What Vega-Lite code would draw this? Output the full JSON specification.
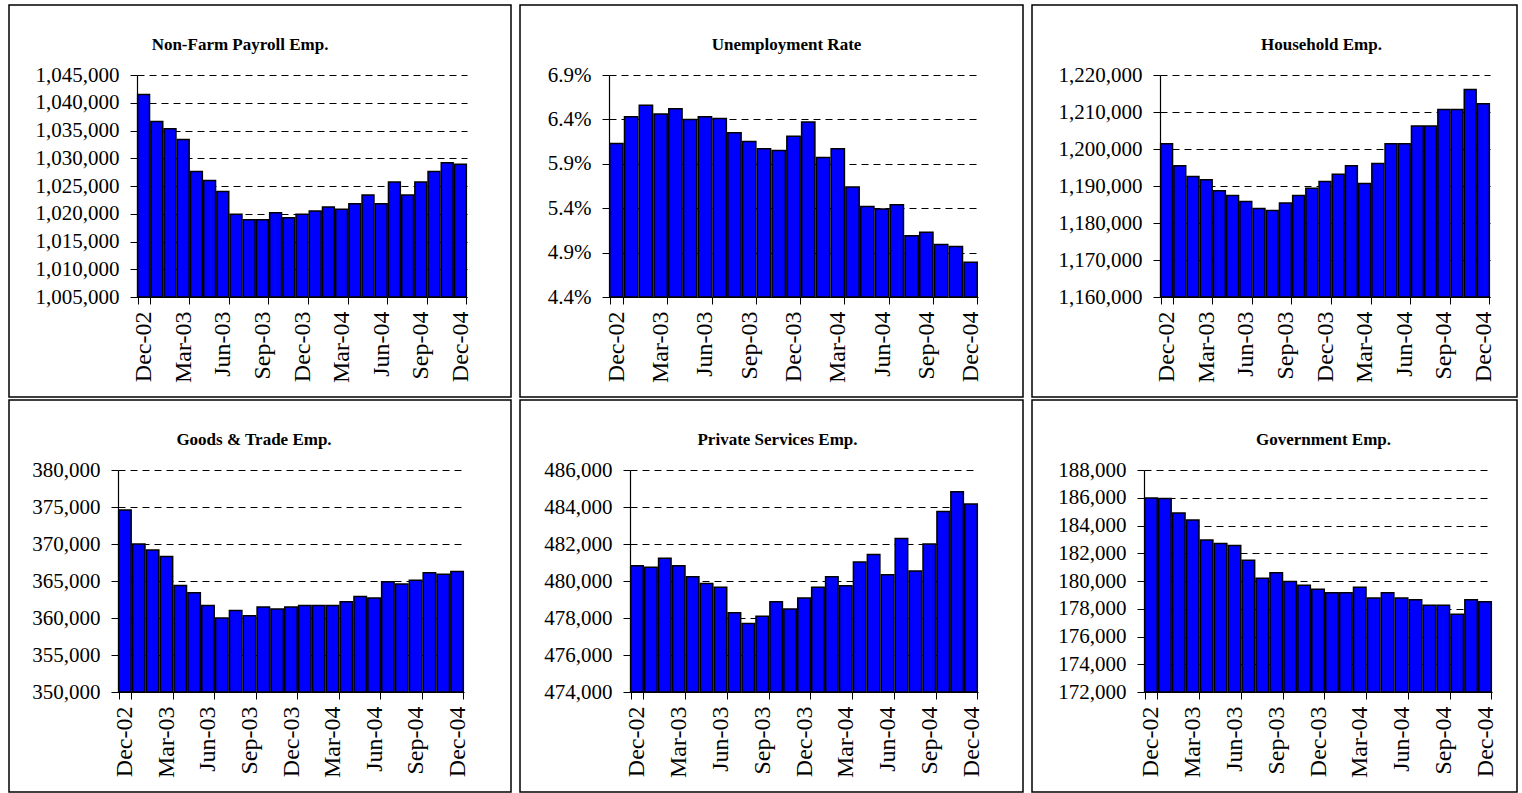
{
  "$schema": "https://vega.github.io/schema/vega-lite/v6.json",
  "padding": {"left": -4, "top": 4, "right": 0, "bottom": 0},
  "background": "white",
  "bounds": "flush",
  "columns": 3,
  "spacing": {"row": 3, "column": 9},
  "datasets": {
    "emp": [
      {"s":"NF","m":"Dec-02","v":1041500},{"s":"NF","m":"Jan-03","v":1036600},{"s":"NF","m":"Feb-03","v":1035300},{"s":"NF","m":"Mar-03","v":1033400},{"s":"NF","m":"Apr-03","v":1027600},{"s":"NF","m":"May-03","v":1026000},{"s":"NF","m":"Jun-03","v":1024000},{"s":"NF","m":"Jul-03","v":1019900},{"s":"NF","m":"Aug-03","v":1018900},{"s":"NF","m":"Sep-03","v":1018900},{"s":"NF","m":"Oct-03","v":1020200},{"s":"NF","m":"Nov-03","v":1019300},{"s":"NF","m":"Dec-03","v":1019900},{"s":"NF","m":"Jan-04","v":1020500},{"s":"NF","m":"Feb-04","v":1021200},{"s":"NF","m":"Mar-04","v":1020800},{"s":"NF","m":"Apr-04","v":1021800},{"s":"NF","m":"May-04","v":1023400},{"s":"NF","m":"Jun-04","v":1021800},{"s":"NF","m":"Jul-04","v":1025700},{"s":"NF","m":"Aug-04","v":1023400},{"s":"NF","m":"Sep-04","v":1025700},{"s":"NF","m":"Oct-04","v":1027600},{"s":"NF","m":"Nov-04","v":1029200},{"s":"NF","m":"Dec-04","v":1028900},
      {"s":"UR","m":"Dec-02","v":0.0613},{"s":"UR","m":"Jan-03","v":0.0643},{"s":"UR","m":"Feb-03","v":0.0656},{"s":"UR","m":"Mar-03","v":0.0646},{"s":"UR","m":"Apr-03","v":0.0652},{"s":"UR","m":"May-03","v":0.0640},{"s":"UR","m":"Jun-03","v":0.0643},{"s":"UR","m":"Jul-03","v":0.0641},{"s":"UR","m":"Aug-03","v":0.0625},{"s":"UR","m":"Sep-03","v":0.0615},{"s":"UR","m":"Oct-03","v":0.0607},{"s":"UR","m":"Nov-03","v":0.0605},{"s":"UR","m":"Dec-03","v":0.0621},{"s":"UR","m":"Jan-04","v":0.0637},{"s":"UR","m":"Feb-04","v":0.0597},{"s":"UR","m":"Mar-04","v":0.0607},{"s":"UR","m":"Apr-04","v":0.0564},{"s":"UR","m":"May-04","v":0.0542},{"s":"UR","m":"Jun-04","v":0.0539},{"s":"UR","m":"Jul-04","v":0.0544},{"s":"UR","m":"Aug-04","v":0.0509},{"s":"UR","m":"Sep-04","v":0.0513},{"s":"UR","m":"Oct-04","v":0.0499},{"s":"UR","m":"Nov-04","v":0.0497},{"s":"UR","m":"Dec-04","v":0.0479},
      {"s":"HH","m":"Dec-02","v":1201400},{"s":"HH","m":"Jan-03","v":1195500},{"s":"HH","m":"Feb-03","v":1192600},{"s":"HH","m":"Mar-03","v":1191700},{"s":"HH","m":"Apr-03","v":1188700},{"s":"HH","m":"May-03","v":1187400},{"s":"HH","m":"Jun-03","v":1185800},{"s":"HH","m":"Jul-03","v":1183900},{"s":"HH","m":"Aug-03","v":1183400},{"s":"HH","m":"Sep-03","v":1185400},{"s":"HH","m":"Oct-03","v":1187400},{"s":"HH","m":"Nov-03","v":1189400},{"s":"HH","m":"Dec-03","v":1191200},{"s":"HH","m":"Jan-04","v":1193200},{"s":"HH","m":"Feb-04","v":1195500},{"s":"HH","m":"Mar-04","v":1190700},{"s":"HH","m":"Apr-04","v":1196100},{"s":"HH","m":"May-04","v":1201400},{"s":"HH","m":"Jun-04","v":1201400},{"s":"HH","m":"Jul-04","v":1206200},{"s":"HH","m":"Aug-04","v":1206200},{"s":"HH","m":"Sep-04","v":1210700},{"s":"HH","m":"Oct-04","v":1210700},{"s":"HH","m":"Nov-04","v":1216100},{"s":"HH","m":"Dec-04","v":1212200},
      {"s":"GT","m":"Dec-02","v":374600},{"s":"GT","m":"Jan-03","v":370000},{"s":"GT","m":"Feb-03","v":369200},{"s":"GT","m":"Mar-03","v":368300},{"s":"GT","m":"Apr-03","v":364400},{"s":"GT","m":"May-03","v":363400},{"s":"GT","m":"Jun-03","v":361700},{"s":"GT","m":"Jul-03","v":360000},{"s":"GT","m":"Aug-03","v":361000},{"s":"GT","m":"Sep-03","v":360300},{"s":"GT","m":"Oct-03","v":361500},{"s":"GT","m":"Nov-03","v":361200},{"s":"GT","m":"Dec-03","v":361500},{"s":"GT","m":"Jan-04","v":361700},{"s":"GT","m":"Feb-04","v":361700},{"s":"GT","m":"Mar-04","v":361700},{"s":"GT","m":"Apr-04","v":362200},{"s":"GT","m":"May-04","v":362900},{"s":"GT","m":"Jun-04","v":362700},{"s":"GT","m":"Jul-04","v":364900},{"s":"GT","m":"Aug-04","v":364600},{"s":"GT","m":"Sep-04","v":365100},{"s":"GT","m":"Oct-04","v":366100},{"s":"GT","m":"Nov-04","v":365900},{"s":"GT","m":"Dec-04","v":366300},
      {"s":"PS","m":"Dec-02","v":480830},{"s":"PS","m":"Jan-03","v":480740},{"s":"PS","m":"Feb-03","v":481230},{"s":"PS","m":"Mar-03","v":480830},{"s":"PS","m":"Apr-03","v":480230},{"s":"PS","m":"May-03","v":479860},{"s":"PS","m":"Jun-03","v":479660},{"s":"PS","m":"Jul-03","v":478280},{"s":"PS","m":"Aug-03","v":477700},{"s":"PS","m":"Sep-03","v":478100},{"s":"PS","m":"Oct-03","v":478880},{"s":"PS","m":"Nov-03","v":478480},{"s":"PS","m":"Dec-03","v":479080},{"s":"PS","m":"Jan-04","v":479660},{"s":"PS","m":"Feb-04","v":480230},{"s":"PS","m":"Mar-04","v":479750},{"s":"PS","m":"Apr-04","v":481030},{"s":"PS","m":"May-04","v":481430},{"s":"PS","m":"Jun-04","v":480340},{"s":"PS","m":"Jul-04","v":482300},{"s":"PS","m":"Aug-04","v":480540},{"s":"PS","m":"Sep-04","v":482000},{"s":"PS","m":"Oct-04","v":483760},{"s":"PS","m":"Nov-04","v":484830},{"s":"PS","m":"Dec-04","v":484160},
      {"s":"GV","m":"Dec-02","v":185980},{"s":"GV","m":"Jan-03","v":185950},{"s":"GV","m":"Feb-03","v":184900},{"s":"GV","m":"Mar-03","v":184400},{"s":"GV","m":"Apr-03","v":182950},{"s":"GV","m":"May-03","v":182700},{"s":"GV","m":"Jun-03","v":182560},{"s":"GV","m":"Jul-03","v":181500},{"s":"GV","m":"Aug-03","v":180200},{"s":"GV","m":"Sep-03","v":180600},{"s":"GV","m":"Oct-03","v":179960},{"s":"GV","m":"Nov-03","v":179700},{"s":"GV","m":"Dec-03","v":179400},{"s":"GV","m":"Jan-04","v":179160},{"s":"GV","m":"Feb-04","v":179160},{"s":"GV","m":"Mar-04","v":179550},{"s":"GV","m":"Apr-04","v":178770},{"s":"GV","m":"May-04","v":179160},{"s":"GV","m":"Jun-04","v":178770},{"s":"GV","m":"Jul-04","v":178650},{"s":"GV","m":"Aug-04","v":178260},{"s":"GV","m":"Sep-04","v":178260},{"s":"GV","m":"Oct-04","v":177600},{"s":"GV","m":"Nov-04","v":178650},{"s":"GV","m":"Dec-04","v":178500}
    ]
  },
  "concat": [
    {
      "width": 502, "height": 392,
      "title": {"text": "Non-Farm Payroll Emp.", "dx": -20},
      "data": {"name": "emp"},
      "transform": [{"filter": "datum.s === 'NF'"}],
      "mark": {"type": "bar", "fill": "#0000ff", "stroke": "#000", "strokeWidth": 1.5},
      "encoding": {
        "x": {"field": "m", "type": "nominal", "sort": null, "title": null,
              "scale": {"range": [128, 458], "paddingInner": 0.1, "paddingOuter": 0.05},
              "axis": {"offset": -100, "values": ["Dec-02","Mar-03","Jun-03","Sep-03","Dec-03","Mar-04","Jun-04","Sep-04","Dec-04"]}},
        "y": {"field": "v", "type": "quantitative", "title": null,
              "scale": {"domain": [1005000, 1045000], "range": [292, 70], "nice": false, "zero": false},
              "axis": {"offset": -128, "format": ",.0f", "values": [1005000,1010000,1015000,1020000,1025000,1030000,1035000,1040000,1045000]}},
        "y2": {"datum": 1005000}
      }
    },
    {
      "width": 503, "height": 392,
      "title": {"text": "Unemployment Rate", "dx": 15},
      "data": {"name": "emp"},
      "transform": [{"filter": "datum.s === 'UR'"}],
      "mark": {"type": "bar", "fill": "#0000ff", "stroke": "#000", "strokeWidth": 1.5},
      "encoding": {
        "x": {"field": "m", "type": "nominal", "sort": null, "title": null,
              "scale": {"range": [89, 458], "paddingInner": 0.1, "paddingOuter": 0.05},
              "axis": {"offset": -100, "values": ["Dec-02","Mar-03","Jun-03","Sep-03","Dec-03","Mar-04","Jun-04","Sep-04","Dec-04"]}},
        "y": {"field": "v", "type": "quantitative", "title": null,
              "scale": {"domain": [0.044, 0.069], "range": [292, 70], "nice": false, "zero": false},
              "axis": {"offset": -89, "format": ".1%", "values": [0.044,0.049,0.054,0.059,0.064,0.069]}},
        "y2": {"datum": 0.044}
      }
    },
    {
      "width": 485, "height": 392,
      "title": {"text": "Household Emp.", "dx": 47},
      "data": {"name": "emp"},
      "transform": [{"filter": "datum.s === 'HH'"}],
      "mark": {"type": "bar", "fill": "#0000ff", "stroke": "#000", "strokeWidth": 1.5},
      "encoding": {
        "x": {"field": "m", "type": "nominal", "sort": null, "title": null,
              "scale": {"range": [128, 458], "paddingInner": 0.1, "paddingOuter": 0.05},
              "axis": {"offset": -100, "values": ["Dec-02","Mar-03","Jun-03","Sep-03","Dec-03","Mar-04","Jun-04","Sep-04","Dec-04"]}},
        "y": {"field": "v", "type": "quantitative", "title": null,
              "scale": {"domain": [1160000, 1220000], "range": [292, 70], "nice": false, "zero": false},
              "axis": {"offset": -128, "format": ",.0f", "values": [1160000,1170000,1180000,1190000,1200000,1210000,1220000]}},
        "y2": {"datum": 1160000}
      }
    },
    {
      "width": 502, "height": 392,
      "title": {"text": "Goods & Trade Emp.", "dx": -6},
      "data": {"name": "emp"},
      "transform": [{"filter": "datum.s === 'GT'"}],
      "mark": {"type": "bar", "fill": "#0000ff", "stroke": "#000", "strokeWidth": 1.5},
      "encoding": {
        "x": {"field": "m", "type": "nominal", "sort": null, "title": null,
              "scale": {"range": [109, 455], "paddingInner": 0.1, "paddingOuter": 0.05},
              "axis": {"offset": -100, "values": ["Dec-02","Mar-03","Jun-03","Sep-03","Dec-03","Mar-04","Jun-04","Sep-04","Dec-04"]}},
        "y": {"field": "v", "type": "quantitative", "title": null,
              "scale": {"domain": [350000, 380000], "range": [292, 70], "nice": false, "zero": false},
              "axis": {"offset": -109, "format": ",.0f", "values": [350000,355000,360000,365000,370000,375000,380000]}},
        "y2": {"datum": 350000}
      }
    },
    {
      "width": 503, "height": 392,
      "title": {"text": "Private Services Emp.", "dx": 6},
      "data": {"name": "emp"},
      "transform": [{"filter": "datum.s === 'PS'"}],
      "mark": {"type": "bar", "fill": "#0000ff", "stroke": "#000", "strokeWidth": 1.5},
      "encoding": {
        "x": {"field": "m", "type": "nominal", "sort": null, "title": null,
              "scale": {"range": [110, 458], "paddingInner": 0.1, "paddingOuter": 0.05},
              "axis": {"offset": -100, "values": ["Dec-02","Mar-03","Jun-03","Sep-03","Dec-03","Mar-04","Jun-04","Sep-04","Dec-04"]}},
        "y": {"field": "v", "type": "quantitative", "title": null,
              "scale": {"domain": [474000, 486000], "range": [292, 70], "nice": false, "zero": false},
              "axis": {"offset": -110, "format": ",.0f", "values": [474000,476000,478000,480000,482000,484000,486000]}},
        "y2": {"datum": 474000}
      }
    },
    {
      "width": 485, "height": 392,
      "title": {"text": "Government Emp.", "dx": 49},
      "data": {"name": "emp"},
      "transform": [{"filter": "datum.s === 'GV'"}],
      "mark": {"type": "bar", "fill": "#0000ff", "stroke": "#000", "strokeWidth": 1.5},
      "encoding": {
        "x": {"field": "m", "type": "nominal", "sort": null, "title": null,
              "scale": {"range": [112, 460], "paddingInner": 0.1, "paddingOuter": 0.05},
              "axis": {"offset": -100, "values": ["Dec-02","Mar-03","Jun-03","Sep-03","Dec-03","Mar-04","Jun-04","Sep-04","Dec-04"]}},
        "y": {"field": "v", "type": "quantitative", "title": null,
              "scale": {"domain": [172000, 188000], "range": [292, 70], "nice": false, "zero": false},
              "axis": {"offset": -112, "format": ",.0f", "values": [172000,174000,176000,178000,180000,182000,184000,186000,188000]}},
        "y2": {"datum": 172000}
      }
    }
  ],
  "config": {
    "view": {"stroke": "#000", "strokeWidth": 1.5, "fill": "white"},
    "axis": {"labelFont": "Liberation Serif", "labelColor": "#000", "domainColor": "#000", "tickColor": "#000", "gridColor": "#000", "gridDash": [7, 5], "gridWidth": 1, "domainWidth": 1.2},
    "axisX": {"grid": false, "labelAngle": -90, "labelFontSize": 24, "tickSize": 7, "labelPadding": 7, "tickBand": "extent"},
    "axisY": {"grid": true, "labelFontSize": 21, "tickSize": 7, "labelPadding": 11},
    "title": {"font": "Liberation Serif", "fontSize": 17, "fontWeight": "bold", "offset": -49, "baseline": "bottom", "frame": "group", "anchor": "middle", "color": "#000"}
  }
}
